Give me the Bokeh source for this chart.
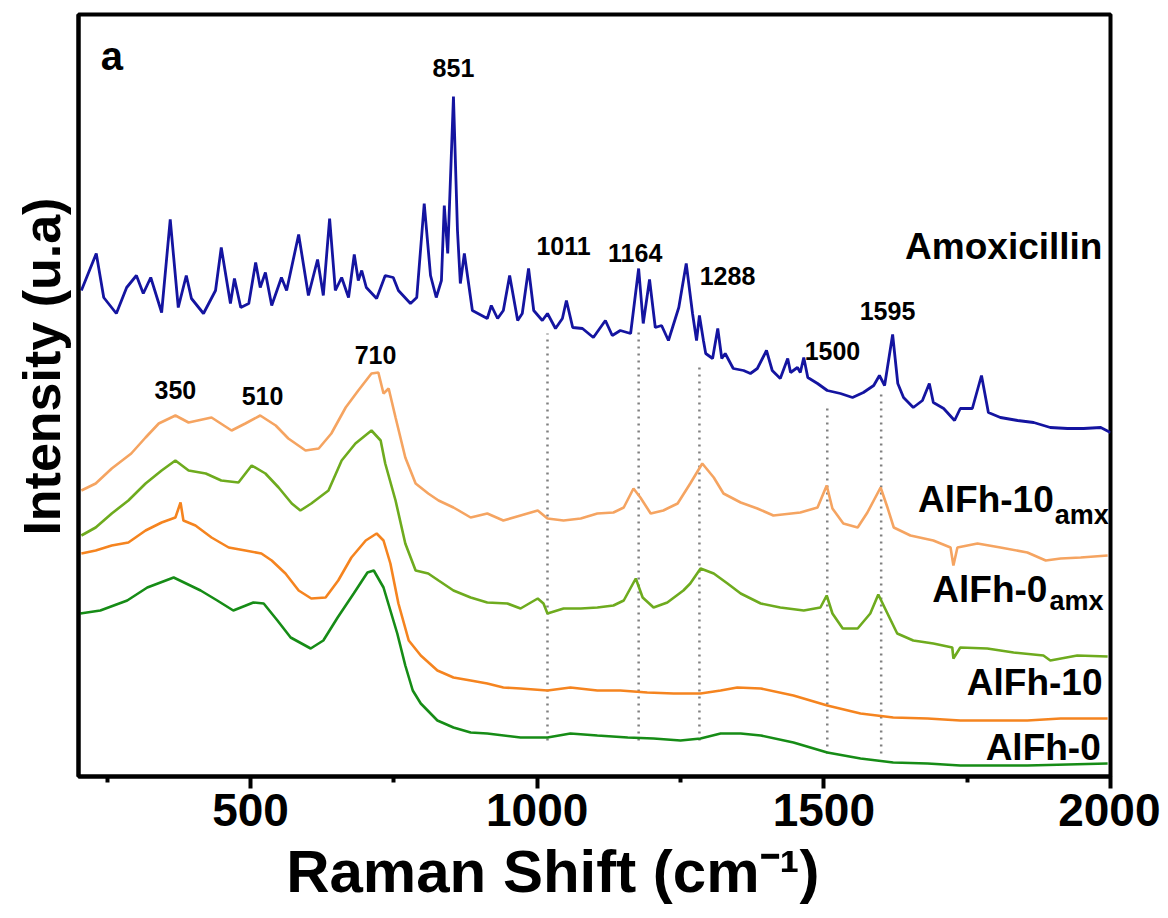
from bokeh.plotting import figure
from bokeh.models import FixedTicker, Label, Range1d
from bokeh.embed import file_html
from bokeh.resources import INLINE

# ---------------- data ----------------
# Raman shift (cm-1) / intensity (arbitrary units, stacked offsets)
amx_x = [205, 231, 244, 266, 284, 301, 313, 326, 345, 360, 374, 388, 397, 418, 439, 449, 465, 472, 483, 497,
         509, 517, 526, 537, 554, 563, 584, 601, 617, 627, 638, 648, 659, 671, 681, 688, 694, 702, 720, 735,
         749, 758, 779, 790, 803, 814, 824, 833, 838, 844, 854, 861, 866, 873, 887, 913, 920, 931, 941, 952,
         966, 974, 985, 994, 1009, 1018, 1032, 1044, 1051, 1062, 1079, 1098, 1119, 1131, 1145, 1163, 1177,
         1185, 1196, 1206, 1217, 1229, 1247, 1260, 1271, 1278, 1283, 1290, 1294, 1306, 1315, 1322, 1328,
         1342, 1360, 1372, 1384, 1400, 1410, 1424, 1437, 1442, 1454, 1459, 1465, 1472, 1489, 1506, 1529,
         1550, 1569, 1587, 1597, 1606, 1620, 1629, 1639, 1656, 1672, 1684, 1691, 1709, 1728, 1738, 1759,
         1775, 1787, 1808, 1838, 1866, 1895, 1925, 1953, 1983, 2000]
amx_y = [486, 523, 479, 463, 489, 501, 483, 499, 464, 557, 469, 501, 478, 463, 486, 529, 473, 498, 469, 473,
         514, 489, 504, 471, 499, 486, 542, 481, 517, 481, 558, 486, 499, 479, 522, 496, 506, 489, 478, 501,
         499, 486, 473, 479, 573, 501, 479, 496, 571, 523, 680, 546, 493, 523, 466, 458, 471, 458, 466, 501,
         456, 463, 508, 466, 456, 463, 448, 458, 476, 449, 448, 439, 456, 441, 446, 443, 508,
         453, 497, 449, 451, 436, 469, 513, 463, 436, 461, 436, 423, 418, 448, 418, 423,
         408, 406, 403, 408, 426, 406, 398, 418, 404, 409, 404, 419, 399, 393, 386, 383,
         379, 384, 391, 401, 391, 442, 393, 379, 369, 376, 393, 374, 368, 356, 368, 368,
         401, 364, 359, 356, 354, 349, 348, 348, 349, 344]

alfh10amx_x = [205, 230, 258, 292, 317, 340, 369, 392, 432, 467, 491, 517, 544, 566, 596, 619, 641, 666, 688,
               711, 723, 732, 741, 753, 770, 788, 810, 828, 854, 884, 913, 941, 971, 1001, 1018, 1046, 1076,
               1105, 1133, 1151, 1168, 1180, 1198, 1220, 1245, 1267, 1288, 1308, 1325, 1355, 1384, 1412, 1459,
               1489, 1505, 1515, 1534, 1559, 1576, 1599, 1611, 1622, 1651, 1691, 1721, 1726, 1733, 1768, 1808,
               1855, 1887, 1913, 1948, 1995]
alfh10amx_y = [286, 293, 308, 323, 339, 353, 361, 354, 359, 346, 353, 361, 351, 338, 326, 328, 343, 369, 386,
               403, 404, 383, 388, 359, 319, 293, 283, 276, 269, 259, 263, 256, 261, 266, 258, 256, 258,
               263, 264, 269, 288, 279, 263, 266, 273, 293, 313, 299, 283, 274, 268, 261, 264,
               269, 291, 268, 253, 249, 264, 289, 269, 249, 241, 236, 229, 211, 229, 233, 229,
               224, 216, 218, 219, 221]

alfh0amx_x = [205, 230, 258, 287, 317, 345, 369, 392, 422, 449, 479, 502, 526, 549, 572, 587, 606, 636, 659,
              683, 711, 727, 735, 753, 770, 788, 810, 828, 854, 884, 913, 948, 971, 1001, 1011, 1018, 1046,
              1076, 1105, 1133, 1151, 1172, 1184, 1203, 1227, 1255, 1267, 1285, 1308, 1332, 1355, 1390, 1424,
              1465, 1494, 1505, 1515, 1533, 1559, 1581, 1595, 1611, 1628, 1656, 1691, 1724, 1726, 1738, 1785,
              1831, 1883, 1895, 1942, 1995]
alfh0amx_y = [241, 249, 263, 276, 293, 306, 316, 306, 303, 296, 294, 311, 303, 289, 273, 266, 273, 286, 316,
              333, 346, 336, 313, 276, 233, 206, 203, 196, 186, 179, 174, 173, 168, 178, 173, 163, 168,
              168, 169, 171, 176, 198, 179, 169, 174, 186, 193, 208, 203, 193, 183, 173, 169,
              166, 169, 181, 163, 148, 148, 163, 182, 163, 143, 136, 133, 129, 118, 129, 128,
              124, 121, 116, 121, 120]

alfh10_x = [205, 230, 258, 287, 317, 345, 369, 378, 383, 404, 432, 462, 491, 519, 537, 561, 584, 606, 631, 653,
            676, 701, 720, 732, 744, 758, 776, 797, 826, 854, 884, 913, 941, 971, 1018, 1058, 1105, 1145, 1192,
            1238, 1285, 1320, 1349, 1390, 1447, 1506, 1564, 1621, 1681, 1738, 1796, 1855, 1913, 1995]
alfh10_y = [223, 226, 231, 234, 246, 254, 259, 274, 256, 251, 239, 229, 226, 223, 216, 203, 186, 178, 179, 196,
            219, 236, 243, 236, 213, 173, 136, 121, 106, 99, 96, 93, 89, 88, 86, 89, 86, 86, 84,
            83, 83, 86, 89, 88, 81, 71, 63, 59, 58, 56, 56, 56, 58, 58]

alfh0_x = [203, 238, 285, 320, 366, 413, 442, 470, 505, 523, 547, 570, 605, 627, 652, 680, 704, 715, 732, 756,
           770, 783, 797, 826, 854, 884, 913, 971, 1018, 1058, 1105, 1158, 1203, 1250, 1285, 1320, 1355, 1390,
           1447, 1506, 1564, 1621, 1681, 1738, 1855, 1995]
alfh0_y = [163, 166, 176, 189, 199, 186, 176, 166, 174, 173, 156, 139, 128, 136, 159, 183, 204, 206, 189, 143,
           111, 86, 73, 56, 49, 44, 43, 39, 39, 43, 41, 39, 38, 36, 38, 43, 43, 41,
           34, 24, 18, 14, 13, 11, 11, 13]

# dotted guide lines at amoxicillin bands
guide_x = [1018, 1177, 1283, 1506, 1600]
guide_top = [443, 448, 413, 369, 383]
guide_bottom = [36, 36, 36, 23, 23]

x_ticks = [500, 1000, 1500, 2000]
x_minor = [250, 750, 1250, 1750]

FONT = "Liberation Sans"
NB = "\u00a0"

p = figure(width=1160, height=910, x_range=Range1d(200, 2000), y_range=Range1d(0, 762),
           output_backend="svg", toolbar_location=None,
           min_border_left=78, min_border_right=50, min_border_top=14, min_border_bottom=134)
p.background_fill_color = "white"
p.border_fill_color = "white"
p.xgrid.visible = False
p.ygrid.visible = False
p.outline_line_color = "black"
p.outline_line_width = 4
p.outline_line_alpha = 1

# x axis
xa = p.xaxis[0]
xa.ticker = FixedTicker(ticks=x_ticks, minor_ticks=x_minor)
xa.axis_line_width = 4
xa.major_tick_line_width = 4
xa.minor_tick_line_width = 4
xa.major_tick_out = 12
xa.major_tick_in = 0
xa.minor_tick_out = 6
xa.minor_tick_in = 0
xa.major_label_text_font = FONT
xa.major_label_text_font_style = "bold"
xa.major_label_text_font_size = "46px"
xa.major_label_text_color = "black"
xa.major_label_standoff = 5
xa.axis_label = "Raman Shift (cm⁻¹)" + NB * 5
xa.axis_label_text_font = FONT
xa.axis_label_text_font_style = "bold"
xa.axis_label_text_font_size = "60px"
xa.axis_label_text_color = "black"
xa.axis_label_standoff = 9

# y axis
ya = p.yaxis[0]
ya.ticker = FixedTicker(ticks=[])
ya.axis_line_width = 4
ya.major_tick_line_color = None
ya.minor_tick_line_color = None
ya.major_label_text_font_size = "0px"
ya.axis_label = NB * 4 + "Intensity (u.a)"
ya.axis_label_text_font = FONT
ya.axis_label_text_font_style = "bold"
ya.axis_label_text_font_size = "52px"
ya.axis_label_text_color = "black"
ya.axis_label_standoff = 8

# guide lines
p.segment(x0=guide_x, y0=guide_bottom, x1=guide_x, y1=guide_top,
          line_color="#808080", line_width=2.5, line_dash="2 5")

# spectra
p.line(alfh0_x, alfh0_y, line_color="#168C16", line_width=2.6)
p.line(alfh10_x, alfh10_y, line_color="#F5841F", line_width=2.6)
p.line(alfh0amx_x, alfh0amx_y, line_color="#6EAB1E", line_width=2.6)
p.line(alfh10amx_x, alfh10amx_y, line_color="#F5A461", line_width=2.6)
p.line(amx_x, amx_y, line_color="#1414A0", line_width=2.8)


def lab(x, y, text, size, align="center"):
    p.add_layout(Label(x=x, y=y, text=text, text_font=FONT, text_font_style="bold",
                       text_font_size=f"{size}px", text_align=align, text_baseline="alphabetic",
                       y_offset=round(0.3 * size), text_color="black"))


# panel letter
lab(239, 709, "a", 40, "left")

# peak labels
peak_labels = [("851", 854, 701), ("1011", 1046, 523), ("1164", 1171, 516), ("1288", 1332, 493),
               ("1500", 1515, 418), ("1595", 1611, 458), ("350", 369, 379), ("510", 521, 373),
               ("710", 718, 414)]
for t, x, y in peak_labels:
    lab(x, y, t, 25)

# series labels
lab(1986, 519, "Amoxicillin", 37, "right")
lab(1901, 266, "AlFh-10", 37, "right")
lab(1997, 254, "amx", 27, "right")
lab(1890, 176, "AlFh-0", 37, "right")
lab(1988, 168, "amx", 27, "right")
lab(1986, 83, "AlFh-10", 37, "right")
lab(1983, 18, "AlFh-0", 37, "right")

open("out.html", "w").write(file_html(p, INLINE))
